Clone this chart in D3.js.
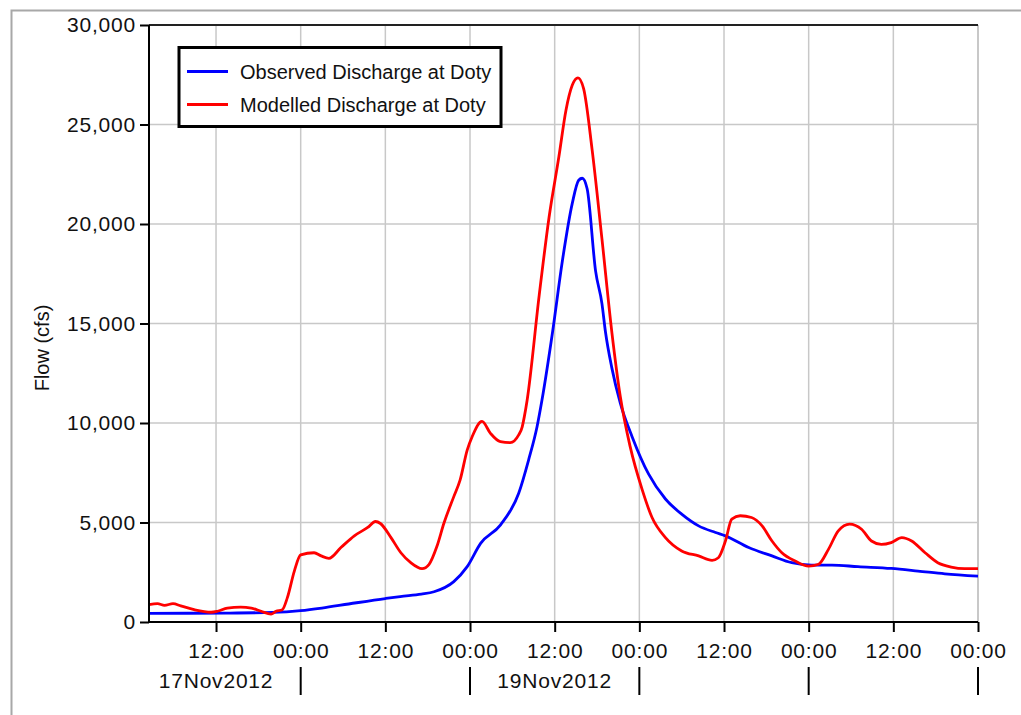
<!DOCTYPE html>
<html>
<head>
<meta charset="utf-8">
<script src="https://cdn.jsdelivr.net/npm/d3@7"></script>
<style>
  body { margin: 0; background: #fff; }
  svg { display: block; font-family: "Liberation Sans", Arial, sans-serif; }
  .grid line { stroke: #c8c8c8; stroke-width: 1.5; }
</style>
</head>
<body>
<div id="chart"></div>
<script>
// hours since 17Nov2012 00:00
const obsHours = [2.5, 8, 14, 20, 24, 27, 30.8, 36, 38.1, 41.1, 42.9, 45.7, 47.6, 49.5, 52.3, 54.9, 56.3, 57.5, 58.2, 59.7, 61.1, 62.5, 63.4, 63.9, 64.6, 65.8, 66.7, 67.2, 68.1, 69.3, 71.0, 73.3, 75.7, 78.0, 80.4, 82.8, 84.2, 87.5, 90.8, 93.6, 96.4, 99.3, 103, 107.7, 111.5, 115.3, 120];
const obsFlow = [430, 440, 450, 480, 570, 700, 905, 1180, 1280, 1400, 1520, 2030, 2780, 3950, 4870, 6470, 8140, 9810, 11150, 14570, 18170, 21050, 22200, 22300, 21770, 17630, 16000, 14570, 12770, 11000, 9290, 7440, 6180, 5420, 4830, 4500, 4330, 3740, 3320, 2980, 2860, 2860, 2780, 2690, 2560, 2420, 2300];

const modHours = [2.5, 3.7, 4.7, 5.9, 7.0, 8.9, 11.3, 12.2, 13.6, 15.5, 17.0, 18.4, 19.8, 20.5, 21.4, 22.1, 23.1, 24.0, 25.9, 26.9, 28.0, 29.7, 31.6, 33.5, 34.6, 35.3, 36.8, 38.2, 39.6, 41.2, 42.2, 43.3, 44.3, 45.7, 46.6, 47.6, 48.3, 49.7, 50.9, 52.3, 53.7, 54.9, 55.4, 55.7, 56.1, 57.8, 59.2, 60.6, 61.6, 62.5, 63.3, 64.1, 65.3, 66.7, 68.1, 69.3, 70.7, 72.4, 73.8, 75.7, 78.0, 80.4, 82.3, 83.2, 84.2, 85.1, 86.3, 87.9, 89.4, 90.8, 92.2, 94.1, 96.0, 97.4, 98.8, 100.2, 101.8, 103.5, 104.9, 106.3, 107.7, 109.2, 110.6, 112.5, 114.3, 116.2, 118.1, 120];
const modFlow = [870, 920, 840, 920, 810, 620, 490, 540, 700, 750, 700, 540, 400, 540, 620, 1210, 2560, 3370, 3480, 3320, 3200, 3740, 4330, 4750, 5050, 4950, 4240, 3480, 2980, 2680, 2900, 3790, 4960, 6300, 7140, 8640, 9310, 10080, 9480, 9060, 9010, 9400, 9810, 10320, 11160, 16400, 20330, 23390, 25720, 26980, 27340, 26800, 23750, 19250, 14570, 11330, 8810, 6650, 5250, 4240, 3570, 3320, 3100, 3230, 4070, 5170, 5340, 5250, 4830, 4070, 3480, 3060, 2810, 2900, 3650, 4580, 4920, 4660, 4070, 3900, 3990, 4240, 4070, 3480, 2980, 2760, 2680, 2680];

const flowTicks = [0, 5000, 10000, 15000, 20000, 25000, 30000];
const dayLabels = ["17Nov2012", "19Nov2012"];
const dayLabelHours = [12, 60];
const daySeparatorHours = [24, 48, 72, 96, 120];

const series = [
  { name: "Observed Discharge at Doty", color: "#0000ff", hours: obsHours, flow: obsFlow },
  { name: "Modelled Discharge at Doty", color: "#ff0000", hours: modHours, flow: modFlow }
];

const W = 1021, H = 715;
const plotL = 149, plotR = 978, plotT = 25, plotB = 622;
const t0 = Date.UTC(2012, 10, 17);
const toDate = h => new Date(t0 + h * 3600e3);

const svg = d3.select("#chart").append("svg").attr("width", W).attr("height", H);

// outer frame
svg.append("path").attr("d", `M11.5,${H} V10.5 H${W}`)
  .attr("fill", "none").attr("stroke", "#a8a8a8").attr("stroke-width", 2);

const x = d3.scaleUtc().domain([toDate(2.5), toDate(120)]).range([plotL, plotR]);
const y = d3.scaleLinear().domain([0, 30000]).range([plotB, plotT]);
const hourTicks = d3.utcHour.every(12).range(toDate(3), toDate(120.1));

// grid
const grid = svg.append("g").attr("class", "grid");
grid.selectAll(".v").data(hourTicks).enter().append("line")
  .attr("x1", d => x(d)).attr("x2", d => x(d)).attr("y1", plotT).attr("y2", plotB);
grid.selectAll(".h").data(flowTicks.slice(1, -1)).enter().append("line")
  .attr("x1", plotL).attr("x2", plotR).attr("y1", d => y(d)).attr("y2", d => y(d));

// plot frame
svg.append("line").attr("x1", plotR).attr("x2", plotR).attr("y1", plotT).attr("y2", plotB)
  .attr("stroke", "#c8c8c8").attr("stroke-width", 2);
svg.append("line").attr("x1", plotL).attr("x2", plotR).attr("y1", plotT).attr("y2", plotT)
  .attr("stroke", "#222").attr("stroke-width", 2);

// series
const line = d3.line().x(d => x(toDate(d[0]))).y(d => y(d[1])).curve(d3.curveMonotoneX);
series.forEach(s => {
  svg.append("path").datum(d3.zip(s.hours, s.flow))
    .attr("d", line).attr("fill", "none")
    .attr("stroke", s.color).attr("stroke-width", 2.8).attr("stroke-linejoin", "round");
});

// axes
const yAxis = svg.append("g").attr("transform", `translate(${plotL},0)`)
  .call(d3.axisLeft(y).tickValues(flowTicks).tickSize(9).tickPadding(4).tickFormat(d3.format(",")));
const xAxis = svg.append("g").attr("transform", `translate(0,${plotB})`)
  .call(d3.axisBottom(x).tickValues(hourTicks).tickSize(10).tickPadding(11).tickFormat(d3.utcFormat("%H:%M")));
[yAxis, xAxis].forEach(g => {
  g.attr("font-family", null).attr("font-size", 21);
  g.select(".domain").attr("stroke", "#000").attr("stroke-width", 2);
  g.selectAll(".tick line").attr("stroke", "#000").attr("stroke-width", 2);
  g.selectAll(".tick text").attr("fill", "#111").attr("letter-spacing", 0.8);
});
yAxis.select(".domain").attr("d", `M0,${plotT}V${plotB}`);
xAxis.select(".domain").attr("d", `M${plotL},0H${plotR}`);
xAxis.selectAll(".tick text").attr("dy", "0.71em");

// date row
const dates = svg.append("g");
dates.selectAll("line").data(daySeparatorHours).enter().append("line")
  .attr("x1", d => x(toDate(d))).attr("x2", d => x(toDate(d)))
  .attr("y1", 667).attr("y2", 695).attr("stroke", "#000").attr("stroke-width", 2);
dates.selectAll("text").data(dayLabels).enter().append("text")
  .attr("x", (d, i) => x(toDate(dayLabelHours[i]))).attr("y", 688)
  .attr("text-anchor", "middle").attr("font-size", 21).attr("letter-spacing", 0.8)
  .attr("fill", "#111").text(d => d);

// y label
svg.append("text").attr("transform", "translate(49,348) rotate(-90)")
  .attr("text-anchor", "middle").attr("font-size", 20).attr("fill", "#111").text("Flow (cfs)");

// legend
const lg = svg.append("g");
lg.append("rect").attr("x", 179).attr("y", 47.5).attr("width", 322).attr("height", 79)
  .attr("fill", "#fff").attr("stroke", "#000").attr("stroke-width", 3);
series.forEach((s, i) => {
  const ly = 71.5 + i * 33;
  lg.append("line").attr("x1", 187).attr("x2", 228).attr("y1", ly).attr("y2", ly)
    .attr("stroke", s.color).attr("stroke-width", 3);
  lg.append("text").attr("x", 240).attr("y", ly + 7).attr("font-size", 20)
    .attr("fill", "#111").text(s.name);
});
</script>
</body>
</html>
